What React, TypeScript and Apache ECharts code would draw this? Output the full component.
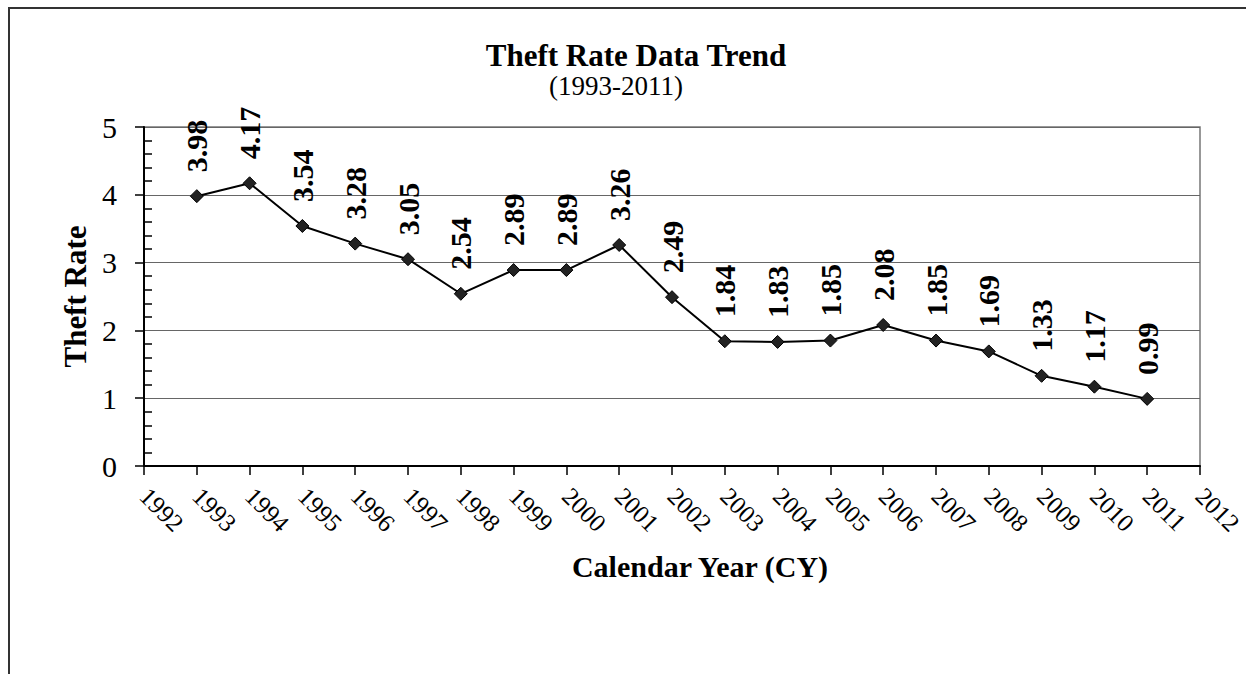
import React, { useEffect, useRef } from "react";
import * as echarts from "echarts";

const years = [1993, 1994, 1995, 1996, 1997, 1998, 1999, 2000, 2001, 2002, 2003, 2004, 2005, 2006, 2007, 2008, 2009, 2010, 2011];
const theftRate = [3.98, 4.17, 3.54, 3.28, 3.05, 2.54, 2.89, 2.89, 3.26, 2.49, 1.84, 1.83, 1.85, 2.08, 1.85, 1.69, 1.33, 1.17, 0.99];
const titleText = "Theft Rate Data Trend";
const subtitleText = "(1993-2011)";
const xName = "Calendar Year (CY)";
const yName = "Theft Rate";

const FONT = "'Liberation Serif', 'Times New Roman', serif";

export default function App() {
  const ref = useRef<HTMLDivElement>(null);
  useEffect(() => {
    if (!ref.current) return;
    const chart = echarts.init(ref.current, undefined, { renderer: "svg" });
    chart.setOption({
      animation: false,
      backgroundColor: "#fff",
      graphic: [
        { type: "rect", shape: { x: 9, y: 8, width: 1400, height: 800 }, style: { fill: "none", stroke: "#333", lineWidth: 2 }, z: 0 },
        { type: "text", x: 636, y: 55, style: { text: titleText, font: `bold 31px ${FONT}`, fill: "#000", align: "center", verticalAlign: "middle" } },
        { type: "text", x: 616, y: 86, style: { text: subtitleText, font: `27px ${FONT}`, fill: "#000", align: "center", verticalAlign: "middle" } },
        { type: "text", x: 700, y: 566, style: { text: xName, font: `bold 30px ${FONT}`, fill: "#000", align: "center", verticalAlign: "middle" } },
      ],
      grid: { left: 144, top: 127, right: 46, bottom: 208, show: true, borderColor: "#777", borderWidth: 1.5, outerBoundsMode: "none", containLabel: false },
      xAxis: {
        type: "value",
        min: 1992,
        max: 2012,
        interval: 1,
        splitLine: { show: false },
        axisLine: { lineStyle: { color: "#000", width: 2 } },
        axisTick: { show: true, inside: false, length: 9, lineStyle: { color: "#000", width: 1.5 } },
        axisLabel: { rotate: -45, margin: 26, color: "#000", fontFamily: FONT, fontSize: 25, formatter: (v: number) => String(v) },
      },
      yAxis: [
        {
          type: "value",
          min: 0,
          max: 5,
          interval: 1,
          name: yName,
          nameLocation: "middle",
          nameGap: 46,
          nameTextStyle: { fontFamily: FONT, fontSize: 31, fontWeight: "bold", color: "#000" },
          axisLine: { show: true, lineStyle: { color: "#000", width: 2 } },
          axisTick: { show: true, inside: false, length: 9, lineStyle: { color: "#000", width: 1.5 } },
          axisLabel: { margin: 27, color: "#000", fontFamily: FONT, fontSize: 30 },
          splitLine: { show: true, lineStyle: { color: "#666", width: 1 } },
        },
        {
          type: "value",
          min: 0,
          max: 5,
          interval: 1,
          position: "left",
          axisLine: { show: false },
          axisTick: { show: false, inside: true },
          minorTick: { show: true, splitNumber: 5, length: 8, lineStyle: { color: "#000", width: 1.5 } },
          axisLabel: { show: false },
          splitLine: { show: false },
        },
      ],
      series: [
        {
          type: "line",
          data: years.map((y, i) => [y, theftRate[i]]),
          symbol: "diamond",
          symbolSize: 13,
          lineStyle: { color: "#000", width: 2 },
          itemStyle: { color: "#222", borderColor: "#000", borderWidth: 1 },
          label: {
            show: true,
            position: "top",
            distance: 17,
            rotate: 90,
            align: "left",
            verticalAlign: "middle",
            fontFamily: FONT,
            fontSize: 30,
            fontWeight: "bold",
            color: "#000",
            formatter: (p: any) => p.value[1].toFixed(2),
          },
        },
      ],
    });
    return () => chart.dispose();
  }, []);
  return <div ref={ref} style={{ position: "fixed", left: 0, top: 0, width: 1246, height: 674 }} />;
}
